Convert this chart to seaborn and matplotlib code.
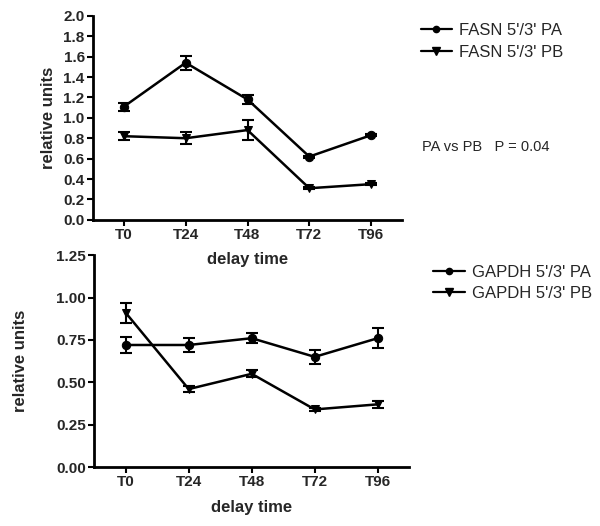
import numpy as np
import pandas as pd
import matplotlib
matplotlib.use("Agg")
import matplotlib.pyplot as plt
import seaborn as sns

times = ["T0", "T24", "T48", "T72", "T96"]

fasn_pa = [1.11, 1.54, 1.18, 0.62, 0.83]
fasn_pa_err = [0.04, 0.07, 0.04, 0.01, 0.01]
fasn_pb = [0.82, 0.80, 0.88, 0.31, 0.35]
fasn_pb_err = [0.04, 0.06, 0.10, 0.01, 0.01]

gapdh_pa = [0.72, 0.72, 0.76, 0.65, 0.76]
gapdh_pa_err = [0.05, 0.04, 0.03, 0.04, 0.06]
gapdh_pb = [0.91, 0.46, 0.55, 0.34, 0.37]
gapdh_pb_err = [0.06, 0.02, 0.02, 0.01, 0.02]

sns.set_theme(style="ticks")
plt.rcParams['font.family'] = ['Liberation Sans', 'DejaVu Sans']


def draw_panel(ax, pa, pa_err, pb, pb_err, labels, yticks, yticklabels, ylim):
    x = np.arange(len(times))
    df = pd.DataFrame({
        "x": np.concatenate([x, x]),
        "y": pa + pb,
        "series": [labels[0]] * len(x) + [labels[1]] * len(x),
    })
    sns.lineplot(data=df, x="x", y="y", style="series", markers=["o", "v"],
                 dashes=False, color="black", linewidth=1.8, markersize=6,
                 markeredgecolor="black", ax=ax, legend=False)
    ax.errorbar(x, pa, yerr=pa_err, fmt="none", ecolor="black", elinewidth=1.5,
                capsize=4, capthick=1.5)
    ax.errorbar(x, pb, yerr=pb_err, fmt="none", ecolor="black", elinewidth=1.5,
                capsize=4, capthick=1.5)
    ax.set_xlim(-0.5, len(times) - 0.5)
    ax.set_ylim(*ylim)
    ax.set_yticks(yticks)
    ax.set_yticklabels(yticklabels)
    ax.set_xticks(x)
    ax.set_xticklabels(times)
    ax.set_xlabel("delay time", fontsize=12, fontweight="bold")
    ax.set_ylabel("relative units", fontsize=12, fontweight="bold")
    for lab in ax.get_xticklabels() + ax.get_yticklabels():
        lab.set_fontweight("bold")
    ax.tick_params(labelsize=11, width=1.5, length=4, color="black", pad=2)
    for s in ["left", "bottom"]:
        ax.spines[s].set_linewidth(2)
        ax.spines[s].set_color("black")
    ax.set_facecolor("none")
    sns.despine(ax=ax)

    handles = [
        plt.Line2D([], [], color="black", marker="o", markersize=4.5, linewidth=1.6),
        plt.Line2D([], [], color="black", marker="v", markersize=5.5, linewidth=1.6),
    ]
    return handles


fig = plt.figure(figsize=(6.0, 5.26), dpi=100)
ax1 = fig.add_axes([0.155, 0.582, 0.515, 0.388])
ax2 = fig.add_axes([0.157, 0.112, 0.525, 0.403])

h1 = draw_panel(ax1, fasn_pa, fasn_pa_err, fasn_pb, fasn_pb_err,
                ["FASN 5'/3' PA", "FASN 5'/3' PB"],
                np.arange(0, 2.01, 0.2),
                [f"{v:.1f}" for v in np.arange(0, 2.01, 0.2)], (0, 2.0))
ax1.yaxis.set_label_coords(-0.12, 0.5)
ax1.xaxis.set_label_coords(0.5, -0.155)

h2 = draw_panel(ax2, gapdh_pa, gapdh_pa_err, gapdh_pb, gapdh_pb_err,
                ["GAPDH 5'/3' PA", "GAPDH 5'/3' PB"],
                [0, 0.25, 0.5, 0.75, 1.0, 1.25],
                ["0.00", "0.25", "0.50", "0.75", "1.00", "1.25"], (0, 1.25))
ax2.yaxis.set_label_coords(-0.21, 0.5)
ax2.xaxis.set_label_coords(0.5, -0.155)

fig.legend(h1, ["FASN 5'/3' PA", "FASN 5'/3' PB"], loc="upper left",
           bbox_to_anchor=(0.676, 0.985), frameon=False, fontsize=12,
           handlelength=1.9, handletextpad=0.4, labelspacing=0.42)
fig.legend(h2, ["GAPDH 5'/3' PA", "GAPDH 5'/3' PB"], loc="upper left",
           bbox_to_anchor=(0.697, 0.525), frameon=False, fontsize=12,
           handlelength=1.9, handletextpad=0.4, labelspacing=0.38)
fig.text(0.703, 0.72, "PA vs PB   P = 0.04", fontsize=10.5, va="center")

fig.savefig("out.png", dpi=100)
